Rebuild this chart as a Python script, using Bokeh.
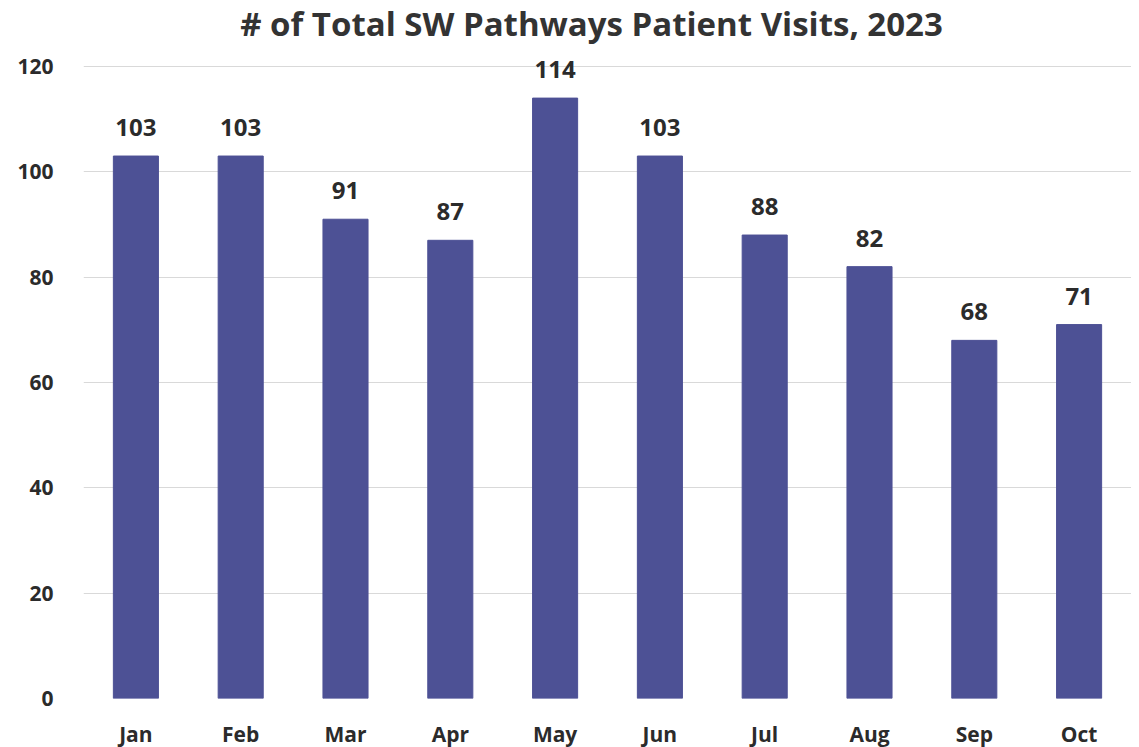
from bokeh.plotting import figure
from bokeh.models import ColumnDataSource, FixedTicker, Label, Range1d
from bokeh.embed import file_html
from bokeh.resources import INLINE
from bokeh.core.properties import value

months = ["Jan", "Feb", "Mar", "Apr", "May", "Jun", "Jul", "Aug", "Sep", "Oct"]
visits = [103, 103, 91, 87, 114, 103, 88, 82, 68, 71]
y_ticks = [0, 20, 40, 60, 80, 100, 120]
title_text = "# of Total SW Pathways Patient Visits, 2023"

FONT = "Open Sans"
TXT = "#2b2b2b"
BAR = "#4d5195"

# frame spans whole height above the x-axis; 120 sits 66px below the top
FRAME_H = 698
PX_PER_UNIT = 632 / 120
y_top = 120 + 66 / PX_PER_UNIT

src = ColumnDataSource(dict(m=months, v=visits, lbl=[str(v) for v in visits]))

p = figure(x_range=months, y_range=Range1d(0, y_top), output_backend="svg", toolbar_location=None,
           frame_width=1048, frame_height=FRAME_H,
           min_border_left=83, min_border_right=0, min_border_top=0, min_border_bottom=48)

title = Label(x=508, y=FRAME_H - 23, x_units="screen", y_units="screen", text=title_text,
              text_align="center", text_baseline="middle", text_font=FONT,
              text_font_size="33px", text_font_style="bold", text_color="#333333")
p.add_layout(title)

p.vbar(x="m", top="v", width=0.43, source=src, fill_color=BAR, line_color=BAR)
p.text(x="m", y="v", text="lbl", source=src, text_align="center", text_baseline="bottom",
       y_offset=-20, text_font=value(FONT), text_font_size="24px", text_font_style="bold",
       text_color=TXT)

p.outline_line_color = None
p.xgrid.grid_line_color = None
p.ygrid.grid_line_color = "#d9d9d9"
p.ygrid.grid_line_width = 1
p.yaxis.ticker = FixedTicker(ticks=y_ticks)

for ax in (p.xaxis[0], p.yaxis[0]):
    ax.axis_line_color = None
    ax.major_tick_line_color = None
    ax.minor_tick_line_color = None
    ax.major_label_text_font = FONT
    ax.major_label_text_font_size = "21px"
    ax.major_label_text_font_style = "bold"
    ax.major_label_text_color = TXT
p.yaxis.major_label_standoff = 24
p.xaxis.major_label_standoff = 15

open("out.html", "w").write(file_html(p, INLINE))
